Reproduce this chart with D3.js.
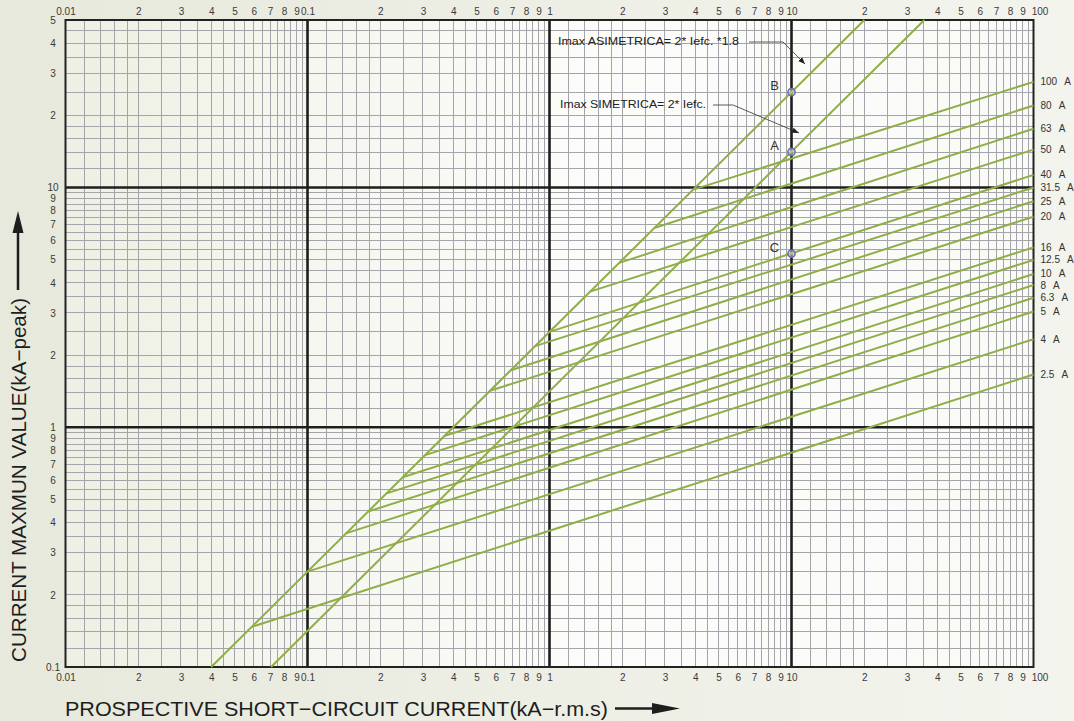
<!DOCTYPE html>
<html>
<head>
<meta charset="utf-8">
<script src="https://d3js.org/d3.v7.min.js"></script>
<style>
  body { margin: 0; background: #eceee3; }
  svg text { font-family: "Liberation Sans", Arial, sans-serif; }
</style>
</head>
<body>
<svg id="chart" width="1074" height="721"></svg>

<script>

// decades of the log grid and the lines inside each decade
var xDecades = [0.01, 0.1, 1, 10]
var yDecades = [0.1, 1, 10]
var gridSteps = [1, 1.2, 1.4, 1.6, 1.8, 2, 2.5, 3, 3.5, 4, 4.5, 5, 5.5, 6, 6.5, 7, 7.5, 8, 8.5, 9, 9.5]
var labelSteps = [1, 2, 3, 4, 5, 6, 7, 8, 9]

// fuse cut-off lines: start on the asymmetric line, end at 100 kA
var fuseRatings = ["100", "80", "63", "50", "40", "31.5", "25", "20", "16", "12.5", "10", "8", "6.3", "5", "4", "2.5"]
var fuseStartX = [3.93, 2.73, 1.94, 1.47, 1.0, 0.871, 0.693, 0.568, 0.367, 0.306, 0.249, 0.2125, 0.178, 0.143, 0.1, 0.0588]
var fuseStartY = [9.8, 6.8, 4.85, 3.68, 2.5, 2.18, 1.73, 1.42, 0.92, 0.765, 0.62, 0.53, 0.445, 0.36, 0.25, 0.147]
var fuseEndY = [27.6, 22.0, 17.6, 14.4, 11.3, 10.0, 8.77, 7.56, 5.63, 4.99, 4.36, 3.92, 3.47, 3.04, 2.33, 1.66]

var asymLine = [[0.04, 0.1], [20, 50]]
var symLine = [[0.0707, 0.1], [35.4, 50]]

var pointNames = ["B", "A", "C"]
var pointX = [10, 10, 10]
var pointY = [25, 14.1, 5.3]

var asymText = "Imax ASIMETRICA= 2* Iefc. *1.8"
var symText = "Imax SIMETRICA= 2* Iefc."
var xTitle = "PROSPECTIVE SHORT\u2212CIRCUIT CURRENT(kA\u2212r.m.s)"
var yTitle = "CURRENT MAXMUN VALUE(kA\u2212peak)"

// (window.top is read only, so no plain "top" here)
var pLeft = 65.5, pRight = 1033.5, pTop = 20, pBottom = 667
var green = "#8fae48"

var x = d3.scaleLog().domain([0.01, 100]).range([pLeft, pRight])
var y = d3.scaleLog().domain([0.1, 50]).range([pBottom, pTop])

// snap thin lines onto the pixel grid
var snap = v => Math.round(v - 0.5) + 0.5

var svg = d3.select("#chart")

var defs = svg.append("defs")
var bg = defs.append("linearGradient").attr("id", "bg")
bg.append("stop").attr("offset", "0%").attr("stop-color", "#e7e9dc")
bg.append("stop").attr("offset", "100%").attr("stop-color", "#f3f4ed")
var pg = defs.append("linearGradient").attr("id", "pg")
pg.append("stop").attr("offset", "0%").attr("stop-color", "#edf0e2")
pg.append("stop").attr("offset", "22%").attr("stop-color", "#f5f6ee")
pg.append("stop").attr("offset", "55%").attr("stop-color", "#fcfcfa")
pg.append("stop").attr("offset", "100%").attr("stop-color", "#fafbf7")

defs.append("marker")
  .attr("id", "tip")
  .attr("viewBox", "0 0 10 10")
  .attr("refX", 10).attr("refY", 5)
  .attr("markerWidth", 7).attr("markerHeight", 7)
  .attr("markerUnits", "userSpaceOnUse")
  .attr("orient", "auto")
  .append("path")
  .attr("d", "M0,1 L10,5 L0,9 Z")
  .attr("fill", "#222")

svg.append("rect").attr("width", 1074).attr("height", 721).attr("fill", "url(#bg)")
svg.append("rect")
  .attr("x", pLeft).attr("y", pTop)
  .attr("width", pRight - pLeft).attr("height", pBottom - pTop)
  .attr("fill", "url(#pg)")

// grid
var xGrid = []
xDecades.forEach(d => gridSteps.forEach(s => xGrid.push(d * s)))
var yGrid = []
yDecades.forEach(d => gridSteps.forEach(s => { if (d * s <= 50) yGrid.push(d * s) }))

var grid = svg.append("g")
  .attr("stroke", "#a4a4aa")
  .attr("stroke-width", 1)
  .attr("shape-rendering", "crispEdges")
grid.selectAll(".vx")
  .data(xGrid)
  .enter().append("line")
  .attr("x1", d => snap(x(d))).attr("x2", d => snap(x(d)))
  .attr("y1", pTop).attr("y2", pBottom)
grid.selectAll(".hy")
  .data(yGrid)
  .enter().append("line")
  .attr("y1", d => snap(y(d))).attr("y2", d => snap(y(d)))
  .attr("x1", pLeft).attr("x2", pRight)

var thick = svg.append("g").attr("stroke", "#1e1e1e").attr("stroke-width", 2.6)
thick.selectAll(".tx")
  .data([0.1, 1, 10])
  .enter().append("line")
  .attr("x1", d => x(d)).attr("x2", d => x(d))
  .attr("y1", pTop).attr("y2", pBottom)
thick.selectAll(".ty")
  .data([1, 10])
  .enter().append("line")
  .attr("y1", d => y(d)).attr("y2", d => y(d))
  .attr("x1", pLeft).attr("x2", pRight)

svg.append("rect")
  .attr("x", pLeft).attr("y", pTop)
  .attr("width", pRight - pLeft).attr("height", pBottom - pTop)
  .attr("fill", "none").attr("stroke", "#222").attr("stroke-width", 2)

// tick labels
var xLabels = []
xDecades.forEach(d => labelSteps.forEach(s => xLabels.push(d * s)))
xLabels.push(100)
var yLabels = []
yDecades.forEach(d => labelSteps.forEach(s => { if (d * s <= 50) yLabels.push(d * s) }))

function fmt(v) {
  var p = Math.pow(10, Math.floor(Math.log10(v) + 1e-9))
  var k = Math.round(v / p)
  return k == 1 ? String(+v.toPrecision(3)) : String(k)
}

function styleAxis(g) {
  g.select(".domain").remove()
  g.selectAll("text")
    .style("font-size", "10px")
    .style("font-family", "Liberation Sans, Arial, sans-serif")
    .attr("fill", "#3a3a3a")
}

// the last label sits a little right of the border, as in the original
function nudgeLast(g) {
  g.selectAll("text").filter(d => d == 100).attr("dx", 6)
}

svg.append("g")
  .attr("transform", `translate(0, ${pTop})`)
  .call(d3.axisTop(x).tickValues(xLabels).tickFormat(fmt).tickSize(0).tickPadding(5))
  .call(styleAxis)
  .call(nudgeLast)

svg.append("g")
  .attr("transform", `translate(0, ${pBottom})`)
  .call(d3.axisBottom(x).tickValues(xLabels).tickFormat(fmt).tickSize(0).tickPadding(7))
  .call(styleAxis)
  .call(nudgeLast)

svg.append("g")
  .attr("transform", `translate(${pLeft}, 0)`)
  .call(d3.axisLeft(y).tickValues(yLabels).tickFormat(fmt).tickSize(0))
  .call(styleAxis)
  .call(g => g.selectAll("text").attr("x", -12.5).attr("text-anchor", "middle"))

// curves
var lineGen = d3.line().x(d => x(d[0])).y(d => y(d[1]))

var fuses = fuseRatings.map((r, i) => ({ rating: r, x0: fuseStartX[i], y0: fuseStartY[i], y1: fuseEndY[i] }))

svg.append("g")
  .selectAll("path")
  .data(fuses)
  .enter().append("path")
  .attr("d", d => lineGen([[d.x0, d.y0], [100, d.y1]]))
  .attr("fill", "none")
  .attr("stroke", green)
  .attr("stroke-width", 2)

svg.append("path")
  .attr("d", lineGen(asymLine))
  .attr("fill", "none").attr("stroke", green).attr("stroke-width", 2)

svg.append("path")
  .attr("d", lineGen(symLine))
  .attr("fill", "none").attr("stroke", green).attr("stroke-width", 2)

// rating labels on the right
var rl = svg.append("g")
  .selectAll("text")
  .data(fuses)
  .enter().append("text")
  .attr("x", pRight + 7)
  .attr("y", d => y(d.y1) + 3.5)
  .style("font-size", "10px")
  .attr("fill", "#333")
rl.append("tspan").text(d => d.rating)
rl.append("tspan").attr("dx", 7).text("A")

// marked points
var pts = pointNames.map((n, i) => ({ name: n, x: pointX[i], y: pointY[i] }))
svg.append("g")
  .selectAll("circle")
  .data(pts)
  .enter().append("circle")
  .attr("cx", d => x(d.x)).attr("cy", d => y(d.y))
  .attr("r", 3.6)
  .attr("fill", "#c9d6a0")
  .attr("fill-opacity", 0.6)
  .attr("stroke", "#6c6fb8")
  .attr("stroke-width", 1.6)

svg.append("g")
  .selectAll("text")
  .data(pts)
  .enter().append("text")
  .attr("x", d => x(d.x) - 17)
  .attr("y", d => y(d.y) - 2)
  .attr("text-anchor", "middle")
  .style("font-size", "13px")
  .attr("fill", "#333")
  .text(d => d.name)

// annotations with leader arrows
svg.append("text")
  .attr("x", 558).attr("y", 45)
  .attr("textLength", 181).attr("lengthAdjust", "spacingAndGlyphs")
  .style("font-size", "10.5px").attr("fill", "#222")
  .text(asymText)
svg.append("path")
  .attr("d", "M749,42 L783,42 L805,64")
  .attr("fill", "none").attr("stroke", "#333").attr("stroke-width", 0.8)
  .attr("marker-end", "url(#tip)")

svg.append("text")
  .attr("x", 560).attr("y", 108)
  .attr("textLength", 146).attr("lengthAdjust", "spacingAndGlyphs")
  .style("font-size", "10.5px").attr("fill", "#222")
  .text(symText)
svg.append("path")
  .attr("d", "M713,105 L733,105 L799,133")
  .attr("fill", "none").attr("stroke", "#333").attr("stroke-width", 0.8)
  .attr("marker-end", "url(#tip)")

// axis titles
svg.append("text")
  .attr("x", 65).attr("y", 716)
  .attr("textLength", 543).attr("lengthAdjust", "spacingAndGlyphs")
  .style("font-size", "21px").attr("fill", "#1e1e1e")
  .text(xTitle)
svg.append("line")
  .attr("x1", 615).attr("x2", 656).attr("y1", 708.5).attr("y2", 708.5)
  .attr("stroke", "#1e1e1e").attr("stroke-width", 2.5)
svg.append("path")
  .attr("d", "M652,703 L680,708.5 L652,714 Z")
  .attr("fill", "#1e1e1e")

svg.append("text")
  .attr("transform", "translate(26, 662) rotate(-90)")
  .attr("textLength", 364).attr("lengthAdjust", "spacingAndGlyphs")
  .style("font-size", "21px").attr("fill", "#1e1e1e")
  .text(yTitle)
svg.append("line")
  .attr("x1", 18).attr("x2", 18).attr("y1", 290).attr("y2", 228)
  .attr("stroke", "#1e1e1e").attr("stroke-width", 2.5)
svg.append("path")
  .attr("d", "M12.5,233 L18,211 L23.5,233 Z")
  .attr("fill", "#1e1e1e")

</script>
</body>
</html>
